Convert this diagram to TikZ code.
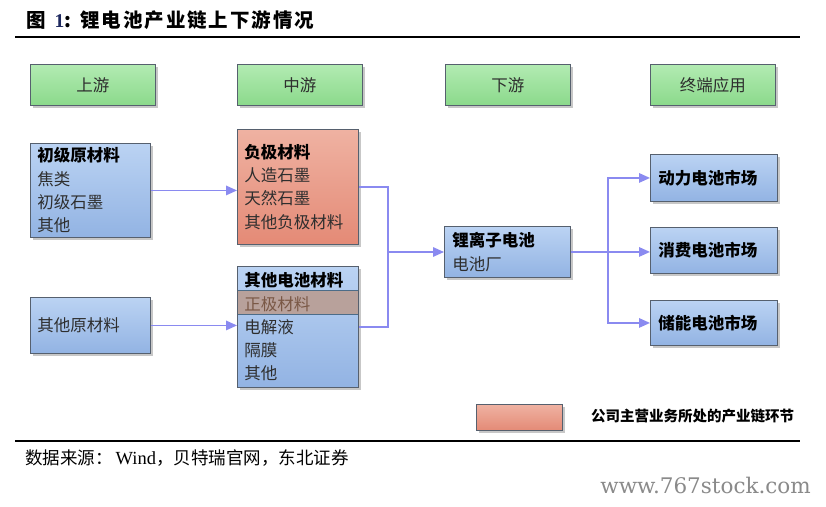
\documentclass[tikz,border=0pt]{standalone}
\usepackage{fontspec}
\usepackage{graphicx}
\setmainfont{Noto Sans CJK SC}
\newfontfamily\titlefont{Noto Sans CJK SC}[LetterSpace=10]
\newfontfamily\wmfont{DejaVu Serif}
\newfontfamily\numfont{Liberation Serif}
\usetikzlibrary{arrows.meta,shadows}
\definecolor{bluetop}{HTML}{BBD3F3}
\definecolor{bluebot}{HTML}{92B3E3}
\definecolor{redtop}{HTML}{EFB2A2}
\definecolor{redbot}{HTML}{E48A76}
\definecolor{greentop}{HTML}{B2EBB2}
\definecolor{greenbot}{HTML}{8BD98B}
\definecolor{boxline}{HTML}{56606E}
\definecolor{bandfill}{HTML}{B8A19B}
\definecolor{bandline}{HTML}{4C6C88}
\definecolor{bandtext}{HTML}{7A5846}
\definecolor{arrowcol}{HTML}{8A8AF0}
\definecolor{textgray}{HTML}{2E2E2E}
\definecolor{titleblue}{HTML}{1F2A60}
\definecolor{wmgray}{HTML}{8A8A8A}
\begin{document}
\begin{tikzpicture}[x=1pt,y=-1pt,
  base/.style={draw=boxline,line width=0.9pt,anchor=north west,inner xsep=7pt,inner ysep=0pt,
    align=left,text=textgray,font=\fontsize{16.5}{23.3}\selectfont,
    drop shadow={shadow xshift=2.5pt,shadow yshift=-2.5pt,opacity=0.22,fill=black}},
  bluebox/.style={base,top color=bluetop,bottom color=bluebot},
  redbox/.style={base,top color=redtop,bottom color=redbot},
  headbox/.style={base,top color=greentop,bottom color=greenbot,align=center,
    minimum height=41pt,text width=111pt},
  conn/.style={draw=arrowcol,line width=1.5pt},
  arr/.style={conn,-{Triangle[length=11pt,width=9.5pt]}},
]
\fill[white] (0,0) rectangle (826,506);
\useasboundingbox (0,0) rectangle (826,506);

% title
\node[anchor=west,inner sep=0pt,font=\titlefont\bfseries\fontsize{19.5}{19.5}\selectfont] (title) at (26,20)
  {图\hspace{9pt}{\numfont\color{titleblue}1}:\hspace{9pt}锂电池产业链上下游情况};
\draw[line width=2pt] (15,37) -- (800,37);

% headers
\node[headbox] (h1) at (30,64) {上游};
\node[headbox] (h2) at (237,64) {中游};
\node[headbox] (h3) at (445,64) {下游};
\node[headbox] (h4) at (650,64) {终端应用};

% upstream
\node[bluebox,text width=106pt,minimum height=94pt] (chuji) at (30,143)
  {{\bfseries\color{black}初级原材料}\\焦类\\初级石墨\\其他};
\node[bluebox,text width=106pt,minimum height=56pt] (qitayuan) at (30,297) {其他原材料};

% midstream
\node[redbox,text width=107pt,minimum height=115pt] (fuji) at (237,129)
  {{\bfseries\color{black}负极材料}\\人造石墨\\天然石墨\\其他负极材料};
\node[bluebox,text width=107pt,minimum height=121pt,
  path picture={\filldraw[fill=bandfill,draw=bandline,line width=0.9pt]
    ([yshift=-24pt]path picture bounding box.north west) rectangle
    ([yshift=-48pt]path picture bounding box.north east);}] (qita) at (237,266)
  {{\bfseries\color{black}其他电池材料}\\{\color{bandtext}正极材料}\\电解液\\隔膜\\其他};

% downstream
\node[bluebox,inner xsep=8pt,text width=110pt,minimum height=51pt] (liion) at (444,226)
  {{\bfseries\color{black}锂离子电池}\\[1.5pt]电池厂};

% markets
\node[bluebox,inner xsep=8pt,text width=111pt,minimum height=47pt] (dongli) at (650,154)
  {\bfseries\color{black}动力电池市场};
\node[bluebox,inner xsep=8pt,text width=111pt,minimum height=46pt] (xiaofei) at (650,227)
  {\bfseries\color{black}消费电池市场};
\node[bluebox,inner xsep=8pt,text width=111pt,minimum height=45pt] (chuneng) at (650,300)
  {\bfseries\color{black}储能电池市场};

% connectors
\draw[arr] (chuji.east) -- (chuji.east -| fuji.west);
\draw[arr] (qitayuan.east) -- (qitayuan.east -| qita.west);
\coordinate (j1) at (388,252);
\draw[conn] (fuji.east) -| (j1) |- (qita.east);
\draw[arr] (j1) -- (j1 -| liion.west);
\coordinate (j2) at (608,252);
\draw[arr] (liion.east) -- (liion.east -| xiaofei.west);
\draw[arr] (j2 |- liion.east) |- (dongli.west);
\draw[arr] (j2 |- liion.east) |- (chuneng.west);

% legend
\node[redbox,minimum width=86pt,minimum height=26pt,inner sep=0pt] (legend) at (476,404) {};
\node[anchor=west,inner sep=0pt,text=black,font=\bfseries\fontsize{14.5}{14.5}\selectfont] (legendtext) at (591,416)
  {公司主营业务所处的产业链环节};

% footer
\draw[line width=2pt] (15,441) -- (800,441);
\node[anchor=west,inner sep=0pt,font=\fontsize{17.5}{17.5}\selectfont] (src) at (25,458)
  {数据来源：\hspace{3pt}{\numfont\fontsize{18.5}{18.5}\selectfont Wind}，贝特瑞官网，东北证券};
\node[anchor=east,inner sep=0pt,text=wmgray,font=\wmfont\fontsize{21.5}{21.5}\selectfont] (wm) at (811,485)
  {www.767stock.com};
\end{tikzpicture}
\end{document}
